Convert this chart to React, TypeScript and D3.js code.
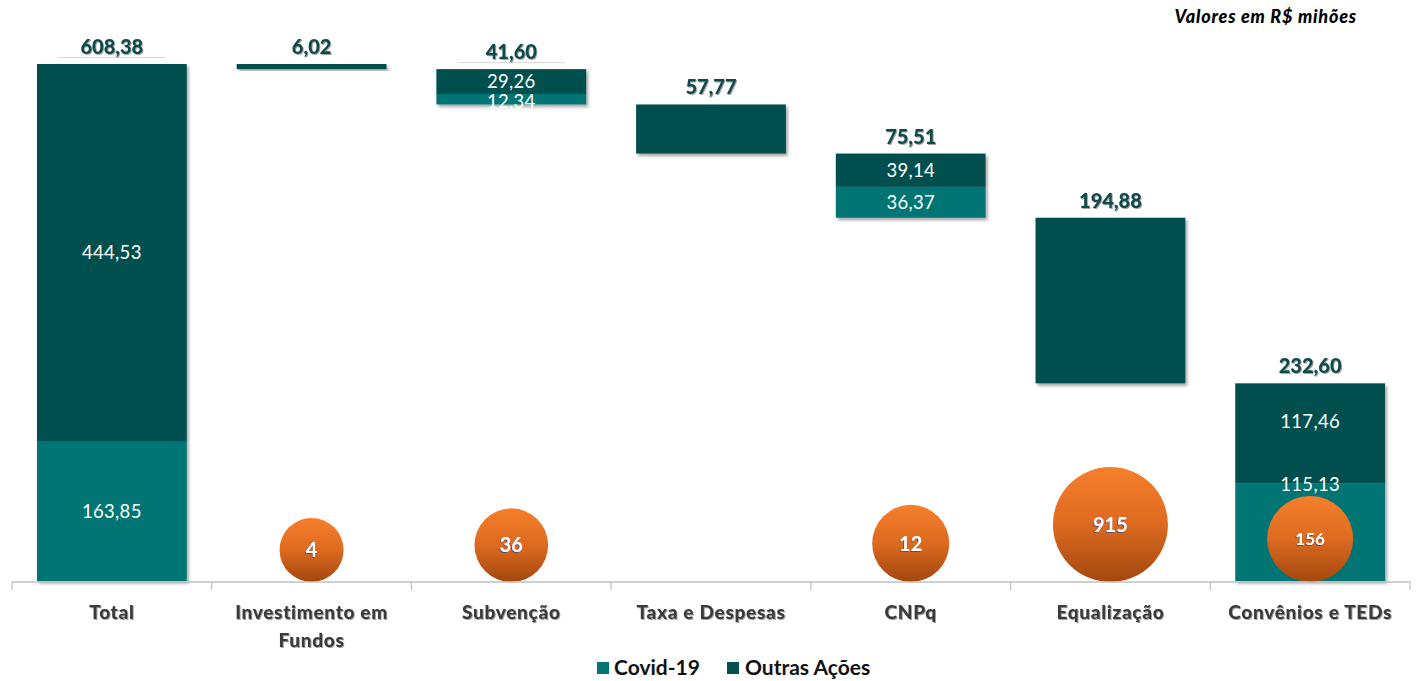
import React from 'react';
import * as d3 from 'd3';

const categories = ['Total', 'Investimento em Fundos', 'Subvenção', 'Taxa e Despesas', 'CNPq', 'Equalização', 'Convênios e TEDs'];
const covid = [163.85, 0, 12.34, 0, 36.37, 0, 115.13];
const outras = [444.53, 6.02, 29.26, 57.77, 39.14, 194.88, 117.46];
const totals = [608.38, 6.02, 41.6, 57.77, 75.51, 194.88, 232.6];
// bubble labels and their (relative) drawn size
const bubbleLabels = [null, 4, 36, null, 12, 915, 156];
const bubbleSize = [0, 31, 41, 0, 45, 100, 56];
const underlined = ['Total', 'Subvenção'];

const W = 1417;
const H = 681;
const FONT = 'Lato, "Open Sans", sans-serif';
const C_COVID = '#027473';
const C_OUTRAS = '#03504f';
const C_LABEL = '#0c4b4b';

const fmt = (v: number) => v.toFixed(2).replace('.', ',');

export default function App() {
  const x = d3.scaleBand<string>().domain(categories).range([12, 1410]).paddingInner(0.25).paddingOuter(0.125);
  const y = d3.scaleLinear().domain([0, totals[0]]).range([581, 64]);
  const r = d3.scaleSqrt().domain([0, d3.max(bubbleSize) as number]).range([0, 57.5]);
  const step = x.step();
  const base = 582;

  // waterfall: total from zero, then each category hangs from the previous bottom
  let running = totals[0];
  const bars = categories.map((c, i) => {
    let bottom: number;
    if (i === 0) bottom = 0;
    else {
      bottom = Math.max(0, running - totals[i]);
      if (bottom < 0.01) bottom = 0;
      running = bottom;
    }
    return { c, i, bottom, mid: bottom + covid[i], top: i === 0 ? totals[0] : bottom + totals[i] };
  });

  const ticks = d3.range(categories.length + 1).map((k) => 12 + k * step);

  return (
    <div style={{ position: 'fixed', left: 0, top: 0, width: W, height: H, background: '#fff' }}>
      <svg width={W} height={H} style={{ display: 'block' }}>
        <defs>
          <filter id="barShadow" x="-10%" y="-10%" width="130%" height="130%">
            <feDropShadow dx="2" dy="2.5" stdDeviation="1.5" floodColor="#000" floodOpacity="0.35" />
          </filter>
          <filter id="txtShadow" x="-10%" y="-20%" width="130%" height="150%">
            <feDropShadow dx="1" dy="1" stdDeviation="0.6" floodColor="#555" floodOpacity="0.55" />
          </filter>
          <filter id="bubTxt" x="-10%" y="-20%" width="130%" height="150%">
            <feDropShadow dx="-0.8" dy="0.8" stdDeviation="0.4" floodColor="#1b3f9a" floodOpacity="0.8" />
          </filter>
          <linearGradient id="bubGrad" x1="0" y1="0" x2="0" y2="1">
            <stop offset="0" stopColor="#f67f2b" />
            <stop offset="0.5" stopColor="#dd6a20" />
            <stop offset="1" stopColor="#a2470f" />
          </linearGradient>
        </defs>

        {/* title */}
        <text x={1357} y={23} textAnchor="end" fontFamily={FONT} fontWeight={900} fontStyle="italic" fontSize={18} letterSpacing={0.8} fill="#000">
          Valores em R$ mihões
        </text>

        {/* Bars */}
        {bars.map((b) => (
          <g key={b.c} filter="url(#barShadow)">
            {covid[b.i] > 0 && (
              <rect x={x(b.c)} width={x.bandwidth()} y={y(b.mid)} height={y(b.bottom) - y(b.mid)} fill={C_COVID} />
            )}
            <rect x={x(b.c)} width={x.bandwidth()} y={y(b.top)} height={y(b.mid) - y(b.top)} fill={C_OUTRAS} />
          </g>
        ))}

        {/* Bubbles */}
        {categories.map((c, i) => {
          if (bubbleLabels[i] == null) return null;
          const rad = r(bubbleSize[i]);
          const cx = (x(c) as number) + x.bandwidth() / 2;
          const cy = base - rad;
          return (
            <g key={`bub-${c}`}>
              <circle cx={cx} cy={cy} r={rad} fill="url(#bubGrad)" />
              <text x={cx} y={cy} dy="0.36em" textAnchor="middle" fontFamily={FONT} fontWeight={700}
                fontSize={bubbleLabels[i] === 156 ? 17 : 20} fill="#fff" filter="url(#bubTxt)">
                {bubbleLabels[i]}
              </text>
            </g>
          );
        })}

        {/* Inner labels; when a bubble sits inside the Covid segment the labels move up */}
        {bars.filter((b) => covid[b.i] > 0).map((b) => {
          const cx = (x(b.c) as number) + x.bandwidth() / 2;
          const crowded = bubbleLabels[b.i] != null && b.bottom === 0;
          const yOut = (y(b.top) + y(b.mid)) / 2 - (crowded ? 12 : 0);
          const yCov = crowded ? y(b.mid) + 1 : Math.max((y(b.mid) + y(b.bottom)) / 2, y(b.mid) + 8);
          return (
            <g key={`in-${b.c}`} fontFamily={FONT} fontSize={18.5} fill="#fff" textAnchor="middle" letterSpacing={0.3}>
              <text x={cx} y={yOut} dy="0.35em">{fmt(outras[b.i])}</text>
              <text x={cx} y={yCov} dy="0.35em">{fmt(covid[b.i])}</text>
            </g>
          );
        })}

        {/* Top labels */}
        {bars.map((b) => {
          const cx = (x(b.c) as number) + x.bandwidth() / 2;
          return (
            <g key={`top-${b.c}`}>
              {underlined.includes(b.c) && (
                <line x1={cx - 54} x2={cx + 54} y1={y(b.top) - 6.5} y2={y(b.top) - 6.5} stroke="#d9d9d9" strokeWidth={1} />
              )}
              <text x={cx} y={y(b.top) - 10} textAnchor="middle" fontFamily={FONT} fontWeight={900} fontSize={20} fill={C_LABEL} filter="url(#txtShadow)">
                {fmt(totals[b.i])}
              </text>
            </g>
          );
        })}

        {/* X axis */}
        <line x1={12} x2={1410} y1={base} y2={base} stroke="#bfbfbf" strokeWidth={1.5} />
        {ticks.map((t, k) => (
          <line key={`t-${k}`} x1={t} x2={t} y1={base} y2={base + 8} stroke="#bfbfbf" strokeWidth={1.2} />
        ))}
        {categories.map((c) => {
          const cx = (x(c) as number) + x.bandwidth() / 2;
          const lines = c === 'Investimento em Fundos' ? ['Investimento em', 'Fundos'] : [c];
          return (
            <text key={`lab-${c}`} textAnchor="middle" fontFamily={FONT} fontWeight={900} fontSize={19} letterSpacing={0.7} fill="#3a3a3a" filter="url(#txtShadow)">
              {lines.map((l, j) => (
                <tspan key={j} x={cx} y={619 + j * 28}>{l}</tspan>
              ))}
            </text>
          );
        })}

        {/* Legend */}
        <g fontFamily={FONT} fontWeight={700} fontSize={21} fill="#111">
          <rect x={597} y={662} width={12} height={12} fill={C_COVID} />
          <text x={614} y={675}>Covid-19</text>
          <rect x={727} y={662} width={12} height={12} fill={C_OUTRAS} />
          <text x={745} y={675}>Outras Ações</text>
        </g>
      </svg>
    </div>
  );
}
